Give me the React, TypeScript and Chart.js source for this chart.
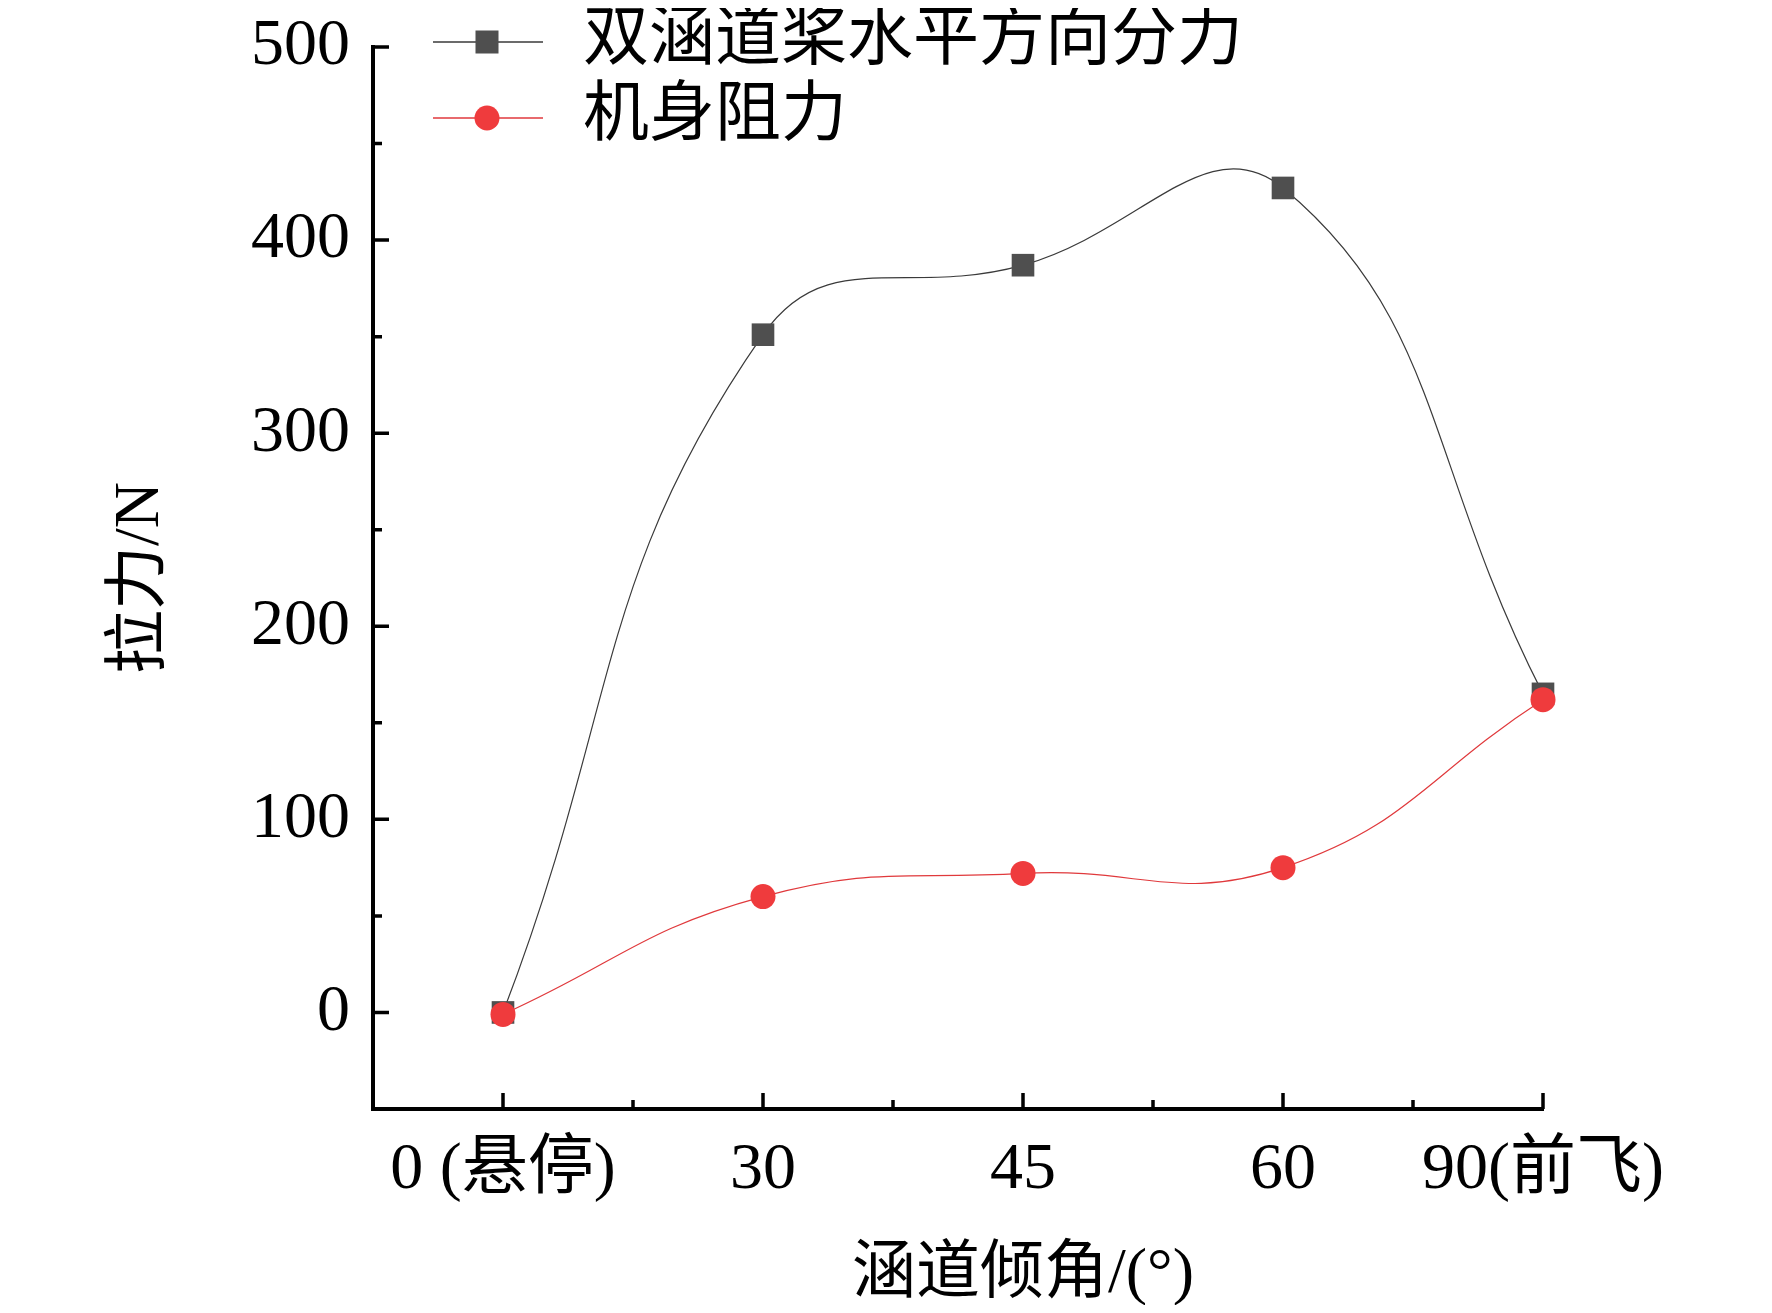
import { useEffect, useRef } from 'react'
import Chart from 'chart.js/auto'

const categories = ['0 (悬停)', '30', '45', '60', '90(前飞)']
const thrust = [0, 351, 387, 427, 165]
const drag = [-1, 60, 72, 75, 162]
const yTicks = [0, 100, 200, 300, 400, 500]
const yMinor = [50, 150, 250, 350, 450]
const xMinor = [0.5, 1.5, 2.5, 3.5]

const seriesNames = ['双涵道桨水平方向分力', '机身阻力']
const yTitle = '拉力/N'
const xTitle = '涵道倾角/(°)'

const FONT = '"Liberation Serif", "Times New Roman", "Noto Sans CJK SC", serif'
const BLACK_MARK = '#4f4f4f'
const BLACK_LINE = '#3a3a3a'
const RED_MARK = '#ef3b3d'
const RED_LINE = '#e0393c'

export default function App() {
  const canvasRef = useRef<HTMLCanvasElement>(null)

  useEffect(() => {
    if (!canvasRef.current) return

    // ticks pointing inward, axis titles and the legend, all drawn by hand
    const decor = {
      id: 'decor',
      afterDraw(chart: any) {
        const { ctx, chartArea } = chart
        const xs = chart.scales.x
        const ys = chart.scales.y
        ctx.save()
        ctx.strokeStyle = '#000'
        ctx.lineWidth = 3.5
        ctx.beginPath()
        yTicks.forEach(v => {
          const y = ys.getPixelForValue(v)
          ctx.moveTo(chartArea.left, y)
          ctx.lineTo(chartArea.left + 16, y)
        })
        yMinor.forEach(v => {
          const y = ys.getPixelForValue(v)
          ctx.moveTo(chartArea.left, y)
          ctx.lineTo(chartArea.left + 9, y)
        })
        categories.forEach((_, i) => {
          const x = xs.getPixelForValue(i)
          ctx.moveTo(x, chartArea.bottom)
          ctx.lineTo(x, chartArea.bottom - 16)
        })
        xMinor.forEach(v => {
          const x = xs.getPixelForValue(v)
          ctx.moveTo(x, chartArea.bottom)
          ctx.lineTo(x, chartArea.bottom - 9)
        })
        ctx.stroke()

        // axis titles
        ctx.fillStyle = '#000'
        ctx.textAlign = 'center'
        ctx.textBaseline = 'middle'
        ctx.font = `64px ${FONT}`
        ctx.fillText(xTitle, xs.getPixelForValue(2), chartArea.bottom + 166)
        ctx.save()
        ctx.translate(chartArea.left - 232, (chartArea.top + chartArea.bottom) / 2)
        ctx.rotate(-Math.PI / 2)
        ctx.font = `64px ${FONT}`
        ctx.fillText(yTitle, 0, 0)
        ctx.restore()

        // legend
        const lx = chartArea.left + 60
        const rows = [chartArea.top - 5, chartArea.top + 71]
        rows.forEach((ry, i) => {
          ctx.strokeStyle = i === 0 ? BLACK_LINE : RED_LINE
          ctx.lineWidth = 1.5
          ctx.beginPath()
          ctx.moveTo(lx, ry)
          ctx.lineTo(lx + 110, ry)
          ctx.stroke()
          ctx.fillStyle = i === 0 ? BLACK_MARK : RED_MARK
          if (i === 0) {
            ctx.fillRect(lx + 54 - 11.5, ry - 11.5, 23, 23)
          } else {
            ctx.beginPath()
            ctx.arc(lx + 54, ry, 12.5, 0, Math.PI * 2)
            ctx.fill()
          }
          ctx.fillStyle = '#000'
          ctx.textAlign = 'left'
          ctx.font = `66px ${FONT}`
          ctx.fillText(seriesNames[i], lx + 150, ry)
        })
        ctx.restore()
      },
    }

    const chart = new Chart(canvasRef.current, {
      type: 'line',
      data: {
        datasets: [
          {
            label: seriesNames[1],
            data: drag.map((v, i) => ({ x: i, y: v })),
            borderColor: RED_LINE,
            borderWidth: 1.2,
            pointStyle: 'circle',
            pointRadius: 12.5,
            pointBorderWidth: 0,
            pointBackgroundColor: RED_MARK,
            pointBorderColor: RED_MARK,
            tension: 0.45,
            clip: false,
            order: 1,
          },
          {
            label: seriesNames[0],
            data: thrust.map((v, i) => ({ x: i, y: v })),
            borderColor: BLACK_LINE,
            borderWidth: 1.2,
            pointStyle: 'rect',
            pointRadius: 16,
            pointBorderWidth: 0,
            pointBackgroundColor: BLACK_MARK,
            pointBorderColor: BLACK_MARK,
            tension: 0.45,
            clip: false,
            order: 2,
          },
        ],
      },
      options: {
        responsive: true,
        maintainAspectRatio: false,
        animation: false,
        layout: { padding: { left: 0, top: 39, right: 221, bottom: 0 } },
        plugins: {
          legend: { display: false },
          tooltip: { enabled: false },
        },
        scales: {
          x: {
            type: 'linear',
            min: -0.5,
            max: 4,
            grid: { display: false },
            border: { display: true, color: '#000', width: 4 },
            afterBuildTicks: (s: any) => {
              s.ticks = categories.map((_, i) => ({ value: i }))
            },
            afterFit: (s: any) => {
              s.height = 196
              s.paddingLeft = 0
              s.paddingRight = 0
            },
            ticks: {
              color: '#000',
              padding: 14,
              maxRotation: 0,
              autoSkip: false,
              font: { family: FONT, size: 66 },
              callback: (v: any) => categories[v] ?? '',
            },
          },
          y: {
            type: 'linear',
            min: -50,
            max: 500,
            grid: { display: false },
            border: { display: true, color: '#000', width: 4 },
            afterBuildTicks: (s: any) => {
              s.ticks = yTicks.map(v => ({ value: v }))
            },
            afterFit: (s: any) => {
              s.width = 365
              s.paddingTop = 0
              s.paddingBottom = 0
            },
            ticks: {
              color: '#000',
              padding: 15,
              font: { family: FONT, size: 66 },
            },
          },
        },
      },
      plugins: [decor],
    })

    return () => chart.destroy()
  }, [])

  return (
    <div style={{ width: 1756, height: 1297, position: 'relative' }}>
      <canvas ref={canvasRef} />
    </div>
  )
}
